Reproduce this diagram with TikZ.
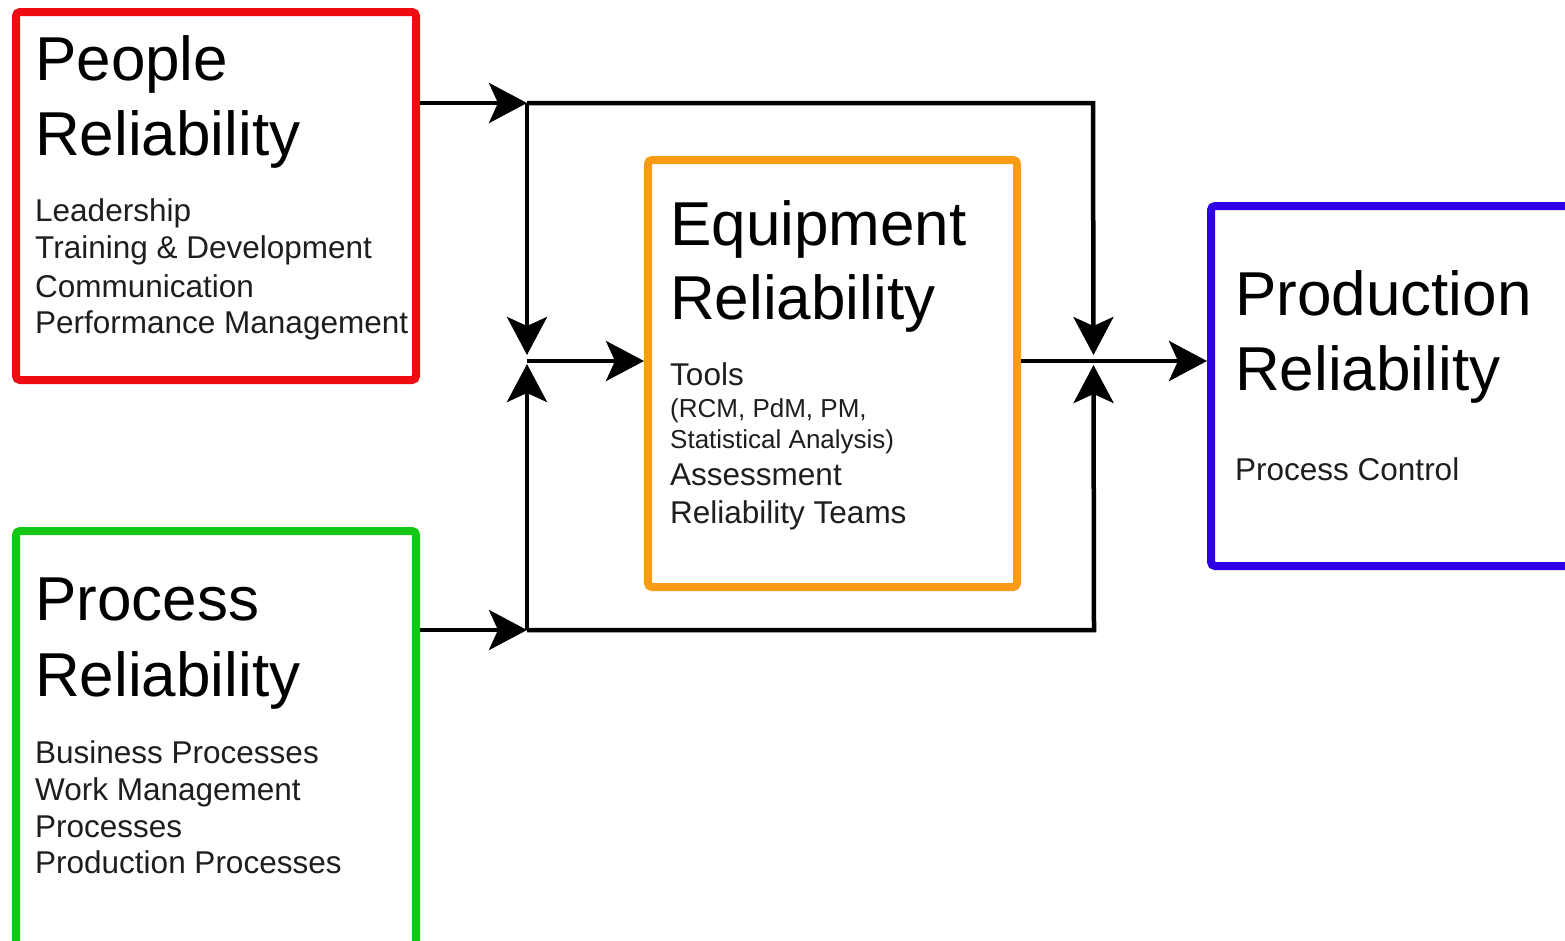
\documentclass[tikz,border=0pt]{standalone}
\usepackage{fontspec}
\setmainfont{Liberation Sans}
\usetikzlibrary{arrows.meta}
\definecolor{boxred}{RGB}{238,12,18}
\definecolor{boxgreen}{RGB}{18,200,20}
\definecolor{boxorange}{RGB}{250,155,22}
\definecolor{boxblue}{RGB}{45,0,230}
\definecolor{bodytext}{RGB}{30,30,30}
\tikzset{
  frame/.style={draw, line width=8pt, rounded corners=4pt, inner sep=0pt, fill=white},
  title/.style={anchor=base west, inner sep=0pt, font=\fontsize{62}{75}\selectfont, text=black},
  body/.style={anchor=base west, inner sep=0pt, font=\fontsize{31.5}{37}\selectfont, text=bodytext},
  small/.style={anchor=base west, inner sep=0pt, font=\fontsize{26}{31}\selectfont, text=bodytext},
  link/.style={line width=4.5pt, draw=black, line join=miter},
  arr/.style={link, -{Stealth[length=38pt, width=40pt, inset=9pt]}}
}
\begin{document}
\begin{tikzpicture}[x=1pt, y=-1pt]
  \clip (0,0) rectangle (1565,940);
  \fill[white] (0,0) rectangle (1565,940);

  % boxes
  \node[frame, draw=boxred, minimum width=400pt, minimum height=368pt] (people) at (216,196) {};
  \node[frame, draw=boxgreen, minimum width=400pt, minimum height=440pt] (process) at (216,751) {};
  \node[frame, draw=boxorange, minimum width=369pt, minimum height=427pt] (equip) at (832.5,373.5) {};
  \node[frame, draw=boxblue, minimum width=380pt, minimum height=360pt] (prod) at (1401,386) {};

  % People Reliability
  \node[title] (pt1) at (35,80) {People};
  \node[title] (pt2) at (35,155) {Reliability};
  \node[body] (pb1) at (35,221) {Leadership};
  \node[body] (pb2) at (35,258) {Training \& Development};
  \node[body] (pb3) at (35,297) {Communication};
  \node[body] (pb4) at (35,333) {Performance Management};

  % Process Reliability
  \node[title] (rt1) at (35,620) {Process};
  \node[title] (rt2) at (35,696) {Reliability};
  \node[body] (rb1) at (35,763) {Business Processes};
  \node[body] (rb2) at (35,800) {Work Management};
  \node[body] (rb3) at (35,837) {Processes};
  \node[body] (rb4) at (35,873) {Production Processes};

  % Equipment Reliability
  \node[title] (et1) at (670,245) {Equipment};
  \node[title] (et2) at (670,319) {Reliability};
  \node[body] (eb1) at (670,385) {Tools};
  \node[small] (eb2) at (670,417) {(RCM, PdM, PM,};
  \node[small] (eb3) at (670,448) {Statistical Analysis)};
  \node[body] (eb4) at (670,485) {Assessment};
  \node[body] (eb5) at (670,523) {Reliability Teams};

  % Production Reliability
  \node[title] (dt1) at (1235,315) {Production};
  \node[title] (dt2) at (1235,390) {Reliability};
  \node[body] (db1) at (1235,480) {Process Control};

  % junction points
  \coordinate (jt) at (527,103);
  \coordinate (jb) at (527,630);
  \coordinate (jtr) at (1093,103);
  \coordinate (jbr) at (1094,630);
  \coordinate (jm) at (527,361);
  \coordinate (jmr) at (1093.5,361);

  % connectors
  \draw[arr] (people.east |- jt) -- (jt);
  \draw[arr] (jt) -- (jtr) -- ([yshift=6pt]jmr);
  \draw[arr] (jt) -- ([yshift=6pt]jm);

  \draw[arr] (process.east |- jb) -- (jb);
  \draw[arr] (jb) -- (jbr) -- ([yshift=-4pt]jmr);
  \draw[arr] (jb) -- ([yshift=-3pt]jm);

  \draw[arr] (jm) -- (equip.west |- jm);
  \draw[arr] (equip.east |- jm) -- (prod.west |- jm);
\end{tikzpicture}
\end{document}
